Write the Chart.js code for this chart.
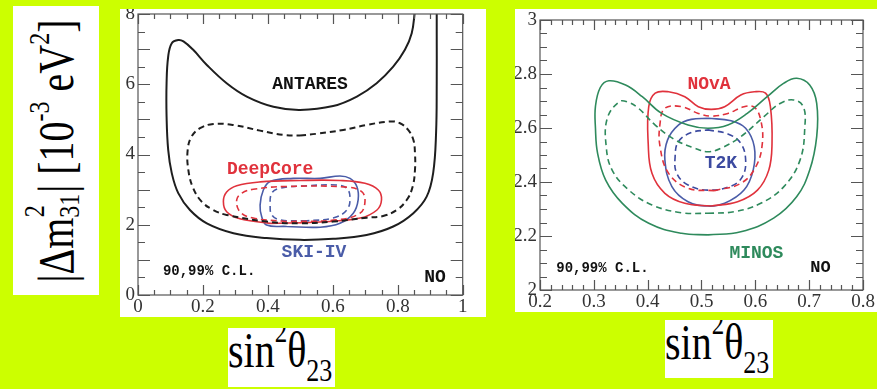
<!DOCTYPE html>
<html>
<head>
<meta charset="utf-8">
<script src="https://cdn.jsdelivr.net/npm/chart.js@4.4.1/dist/chart.umd.min.js"></script>
<style>
  body { margin: 0; width: 877px; height: 389px; background: #ccff00; position: relative; overflow: hidden; }
  .box { position: absolute; background: #fff; overflow: hidden; }
  .title { position: absolute; font-family: "Liberation Serif", "DejaVu Serif", serif; color: #000; white-space: nowrap; }
  .ytitle { width: 289px; height: 86px; left: -101.5px; top: 101.5px; line-height: 86px; text-align: center;
            font-size: 40px; transform: rotate(-90deg) scaleY(1.25); }
  .st { display: inline-block; position: relative; width: 0.62em; height: 1em; }
  .st .sp { position: absolute; left: 0.02em; top: -0.12em; font-size: 0.6em; line-height: 1; }
  .st .sb { position: absolute; left: 0; bottom: -0.38em; font-size: 0.6em; line-height: 1; }
  .up { font-size: 0.6em; position: relative; top: -0.8em; }
  .xtitle { left: 0; top: -2px; font-size: 40px; line-height: 40px; transform: scaleY(1.25); transform-origin: 0 0; }
  .xtitle .sp2 { font-size: 25px; position: relative; top: -20px; }
  .xtitle .sb2 { font-size: 26px; position: relative; top: 11px; }
  .preload { position: absolute; left: -999px; top: 0; }
</style>
</head>
<body>
<span class="preload" style="font-family:'Liberation Serif'">0.2</span>
<span class="preload" style="font-family:'Liberation Mono';font-weight:bold">NO</span>

<div class="box" style="left:13px;top:6px;width:86px;height:289px">
  <div class="title ytitle">|Δm<span class="st"><span class="sp">2</span><span class="sb">31</span></span>| [10<span class="up">-3</span> eV<span class="up">2</span>]</div>
</div>

<div class="box" style="left:120px;top:9px;width:366px;height:308px">
  <canvas id="leftChart" width="366" height="308"></canvas>
</div>

<div class="box" style="left:515px;top:9px;width:362px;height:303px">
  <canvas id="rightChart" width="362" height="303"></canvas>
</div>

<div class="box" style="left:228px;top:328px;width:107px;height:59px">
  <div class="title xtitle">sin<span class="sp2">2</span>θ<span class="sb2">23</span></div>
</div>

<div class="box" style="left:665px;top:320px;width:108px;height:58px">
  <div class="title xtitle">sin<span class="sp2">2</span>θ<span class="sb2">23</span></div>
</div>

<script>
// ---- left panel: atmospheric experiments, sin^2(theta23) vs |dm^2_31| ----
const leftXTicks = [0, 0.2, 0.4, 0.6, 0.8, 1];
const leftYTicks = [0, 2, 4, 6, 8];

// ANTARES 99% is open at the top of the frame
const antares99X = [0.853, 0.843, 0.822, 0.786, 0.735, 0.674, 0.601, 0.499, 0.417, 0.335, 0.273, 0.212, 0.170, 0.140, 0.124, 0.104, 0.093, 0.088, 0.088, 0.093, 0.104, 0.124, 0.160, 0.212, 0.294, 0.396, 0.499, 0.601, 0.704, 0.786, 0.848, 0.889, 0.909, 0.918, 0.920, 0.920, 0.920];
const antares99Y = [8.10, 7.45, 6.98, 6.50, 6.03, 5.65, 5.38, 5.27, 5.36, 5.65, 6.03, 6.55, 6.98, 7.22, 7.26, 7.17, 6.79, 6.03, 5.08, 4.13, 3.47, 2.90, 2.42, 2.04, 1.76, 1.62, 1.57, 1.60, 1.71, 1.95, 2.33, 2.80, 3.47, 4.61, 6.03, 7.46, 8.10];

const antares90X = [0.499, 0.550, 0.632, 0.704, 0.776, 0.807, 0.832, 0.848, 0.853, 0.853, 0.846, 0.828, 0.797, 0.755, 0.704, 0.601, 0.499, 0.396, 0.273, 0.232, 0.196, 0.170, 0.155, 0.153, 0.165, 0.191, 0.232, 0.294, 0.376, 0.447, 0.499];
const antares90Y = [4.54, 4.59, 4.70, 4.84, 4.94, 4.89, 4.70, 4.42, 4.04, 3.56, 3.09, 2.71, 2.42, 2.25, 2.20, 2.09, 2.04, 2.09, 2.28, 2.42, 2.66, 3.04, 3.56, 4.13, 4.51, 4.75, 4.87, 4.84, 4.68, 4.56, 4.54];

const deepcore99X = [0.407, 0.314, 0.273, 0.263, 0.273, 0.304, 0.376, 0.499, 0.622, 0.699, 0.740, 0.750, 0.736, 0.684, 0.561, 0.407];
const deepcore99Y = [2.04, 2.17, 2.37, 2.66, 2.93, 3.11, 3.22, 3.26, 3.26, 3.18, 2.99, 2.71, 2.42, 2.19, 2.08, 2.04];

const deepcore90X = [0.458, 0.355, 0.314, 0.304, 0.320, 0.355, 0.458, 0.643, 0.689, 0.699, 0.684, 0.612, 0.458];
const deepcore90Y = [2.09, 2.19, 2.37, 2.71, 2.90, 3.01, 3.09, 3.07, 2.94, 2.66, 2.33, 2.14, 2.09];

const ski99X = [0.458, 0.396, 0.381, 0.376, 0.386, 0.407, 0.478, 0.561, 0.622, 0.653, 0.674, 0.678, 0.663, 0.622, 0.561, 0.458];
const ski99Y = [1.95, 1.99, 2.23, 2.56, 2.99, 3.23, 3.32, 3.32, 3.39, 3.32, 3.09, 2.71, 2.33, 2.04, 1.93, 1.95];

const ski90X = [0.520, 0.437, 0.412, 0.407, 0.412, 0.437, 0.520, 0.612, 0.643, 0.653, 0.643, 0.601, 0.520];
const ski90Y = [2.11, 2.14, 2.28, 2.56, 2.90, 3.04, 3.11, 3.13, 3.04, 2.76, 2.42, 2.19, 2.11];

// ---- right panel: long-baseline experiments ----
const rightXTicks = [0.2, 0.3, 0.4, 0.5, 0.6, 0.7, 0.8];
const rightYTicks = [2, 2.2, 2.4, 2.6, 2.8, 3];

const minos99X = [0.512, 0.573, 0.634, 0.677, 0.701, 0.714, 0.714, 0.701, 0.677, 0.653, 0.622, 0.585, 0.549, 0.512, 0.475, 0.426, 0.390, 0.359, 0.328, 0.312, 0.303, 0.303, 0.307, 0.322, 0.353, 0.402, 0.463, 0.512];
const minos99Y = [2.204, 2.216, 2.266, 2.346, 2.444, 2.568, 2.691, 2.759, 2.784, 2.766, 2.716, 2.654, 2.611, 2.599, 2.611, 2.654, 2.716, 2.759, 2.775, 2.750, 2.680, 2.600, 2.506, 2.407, 2.321, 2.247, 2.210, 2.204];

const minos90X = [0.512, 0.561, 0.610, 0.653, 0.683, 0.692, 0.689, 0.671, 0.646, 0.616, 0.573, 0.536, 0.512, 0.488, 0.451, 0.414, 0.383, 0.362, 0.347, 0.325, 0.323, 0.334, 0.365, 0.408, 0.463, 0.512];
const minos90Y = [2.284, 2.290, 2.321, 2.383, 2.481, 2.605, 2.679, 2.704, 2.691, 2.642, 2.568, 2.525, 2.512, 2.525, 2.556, 2.611, 2.673, 2.697, 2.697, 2.636, 2.531, 2.444, 2.370, 2.315, 2.286, 2.284];

const nova99X = [0.518, 0.469, 0.432, 0.408, 0.401, 0.402, 0.414, 0.439, 0.469, 0.494, 0.518, 0.543, 0.573, 0.598, 0.619, 0.628, 0.631, 0.625, 0.604, 0.567, 0.518];
const nova99Y = [2.311, 2.321, 2.358, 2.432, 2.543, 2.679, 2.729, 2.734, 2.716, 2.679, 2.669, 2.679, 2.722, 2.734, 2.729, 2.679, 2.543, 2.444, 2.370, 2.327, 2.311];

const nova90X = [0.524, 0.475, 0.439, 0.423, 0.423, 0.432, 0.463, 0.494, 0.518, 0.549, 0.579, 0.598, 0.610, 0.613, 0.601, 0.573, 0.524];
const nova90Y = [2.368, 2.377, 2.432, 2.531, 2.617, 2.673, 2.679, 2.654, 2.644, 2.654, 2.679, 2.677, 2.630, 2.543, 2.457, 2.395, 2.368];

const t2k99X = [0.512, 0.555, 0.582, 0.598, 0.596, 0.579, 0.543, 0.512, 0.475, 0.445, 0.432, 0.437, 0.457, 0.481, 0.512];
const t2k99Y = [2.636, 2.627, 2.599, 2.531, 2.444, 2.370, 2.321, 2.311, 2.327, 2.383, 2.481, 2.556, 2.611, 2.632, 2.636];

const t2k90X = [0.512, 0.549, 0.573, 0.582, 0.576, 0.555, 0.512, 0.475, 0.454, 0.451, 0.457, 0.481, 0.512];
const t2k90Y = [2.593, 2.578, 2.543, 2.481, 2.420, 2.385, 2.370, 2.389, 2.432, 2.494, 2.549, 2.583, 2.593];

// in-plot annotations (text + anchor in data units)
const leftNotes = ['ANTARES', 'DeepCore', 'SKI-IV', '90,99% C.L.', 'NO'];
const leftNoteX = [0.53, 0.407, 0.542, 0.219, 0.915];
const leftNoteY = [6.0, 3.56, 1.2, 0.66, 0.51];
const rightNotes = ['NOvA', 'T2K', 'MINOS', '90,99% C.L.', 'NO'];
const rightNoteX = [0.514, 0.536, 0.602, 0.316, 0.721];
const rightNoteY = [2.76, 2.47, 2.137, 2.081, 2.081];

const BLACK = '#1e1e1e', RED = '#e0323c', BLUE = '#4a5ca8', T2KBLUE = '#3c4aa0', GREEN = '#2e8a5c';

function pts(xs, ys) {
  return xs.map((x, i) => ({ x: x, y: ys[i] }));
}

function contour(xs, ys, color, dashed, width) {
  return {
    data: pts(xs, ys),
    showLine: true,
    borderColor: color,
    borderWidth: width || 1.6,
    borderDash: dashed ? [6, 4] : [],
    pointRadius: 0,
    tension: 0.4,
    fill: false
  };
}

// inward ticks on all four sides plus the frame
const frameTicks = {
  id: 'frameTicks',
  afterDatasetsDraw(chart, args, o) {
    const { ctx, chartArea: a, scales: { x, y } } = chart;
    ctx.save();
    ctx.strokeStyle = '#555';
    ctx.lineWidth = 1.2;
    ctx.beginPath();
    const nx = Math.round((x.max - x.min) / o.xMinor);
    for (let i = 0; i <= nx; i++) {
      const v = x.min + i * o.xMinor;
      const r = v / o.xMajor;
      const len = Math.abs(r - Math.round(r)) < 1e-6 ? o.xLong : o.xShort;
      const px = Math.round(x.getPixelForValue(v)) + 0.5;
      ctx.moveTo(px, a.bottom); ctx.lineTo(px, a.bottom - len);
      ctx.moveTo(px, a.top); ctx.lineTo(px, a.top + len);
    }
    const ny = Math.round((y.max - y.min) / o.yMinor);
    for (let i = 0; i <= ny; i++) {
      const v = y.min + i * o.yMinor;
      const r = (v - y.min) / o.yMajor;
      const len = Math.abs(r - Math.round(r)) < 1e-6 ? o.yLong : o.yShort;
      const py = Math.round(y.getPixelForValue(v)) + 0.5;
      ctx.moveTo(a.left, py); ctx.lineTo(a.left + len, py);
      ctx.moveTo(a.right, py); ctx.lineTo(a.right - len, py);
    }
    ctx.stroke();
    ctx.strokeRect(a.left, a.top, a.right - a.left, a.bottom - a.top);
    ctx.restore();
  }
};

const notesPlugin = {
  id: 'notes',
  afterDatasetsDraw(chart, args, o) {
    const { ctx, scales: { x, y } } = chart;
    ctx.save();
    ctx.textAlign = 'center';
    ctx.textBaseline = 'middle';
    o.text.forEach((t, i) => {
      ctx.font = o.fonts[i];
      ctx.fillStyle = o.colors[i];
      ctx.fillText(t, x.getPixelForValue(o.xs[i]), y.getPixelForValue(o.ys[i]));
    });
    ctx.restore();
  }
};

const tickFont = { family: '"Liberation Serif", "Times New Roman", serif', size: 19 };
const tickLabel = v => String(+v.toFixed(2));

function panel(id, cfg) {
  const ctx = document.getElementById(id).getContext('2d');
  return new Chart(ctx, {
    type: 'scatter',
    data: { datasets: cfg.datasets },
    options: {
      responsive: false,
      animation: false,
      layout: { padding: cfg.padding },
      plugins: {
        legend: { display: false },
        tooltip: { enabled: false },
        frameTicks: cfg.ticks,
        notes: cfg.notes
      },
      scales: {
        x: {
          type: 'linear', min: cfg.xTicks[0], max: cfg.xTicks[cfg.xTicks.length - 1],
          grid: { display: false, drawTicks: false },
          border: { display: false },
          afterBuildTicks: s => { s.ticks = cfg.xTicks.map(v => ({ value: v })); },
          ticks: { font: tickFont, color: '#333', padding: 1, maxRotation: 0, autoSkip: false, callback: tickLabel },
          afterFit: s => { s.height = cfg.xHeight; s.paddingLeft = 0; s.paddingRight = 0; }
        },
        y: {
          type: 'linear', min: cfg.yTicks[0], max: cfg.yTicks[cfg.yTicks.length - 1],
          grid: { display: false, drawTicks: false },
          border: { display: false },
          afterBuildTicks: s => { s.ticks = cfg.yTicks.map(v => ({ value: v })); },
          ticks: { font: tickFont, color: '#333', padding: 3, autoSkip: false, callback: tickLabel },
          afterFit: s => { s.width = cfg.yWidth; s.paddingTop = 0; s.paddingBottom = 0; }
        }
      }
    },
    plugins: [frameTicks, notesPlugin]
  });
}

const monoBold = sz => 'bold ' + sz + 'px "Liberation Mono", "Courier New", monospace';

function draw() {
  panel('leftChart', {
    xTicks: leftXTicks, yTicks: leftYTicks,
    padding: { top: 5, right: 23.3, left: 0, bottom: 0 },
    xHeight: 22, yWidth: 18,
    ticks: { xMinor: 0.05, xMajor: 0.2, xLong: 10, xShort: 5, yMinor: 0.5, yMajor: 1, yLong: 12, yShort: 7 },
    notes: {
      text: leftNotes, xs: leftNoteX, ys: leftNoteY,
      fonts: [monoBold(18), monoBold(18), monoBold(18), monoBold(14), monoBold(18)],
      colors: ['#111', RED, BLUE, '#111', '#111']
    },
    datasets: [
      contour(antares99X, antares99Y, BLACK, false, 2),
      contour(antares90X, antares90Y, BLACK, true, 2),
      contour(deepcore99X, deepcore99Y, RED, false),
      contour(deepcore90X, deepcore90Y, RED, true),
      contour(ski99X, ski99Y, BLUE, false),
      contour(ski90X, ski90Y, BLUE, true)
    ]
  });

  panel('rightChart', {
    xTicks: rightXTicks, yTicks: rightYTicks,
    padding: { top: 11, right: 14, left: 0, bottom: 0 },
    xHeight: 22, yWidth: 25,
    ticks: { xMinor: 0.02, xMajor: 0.1, xLong: 10, xShort: 5, yMinor: 0.05, yMajor: 0.2, yLong: 12, yShort: 7 },
    notes: {
      text: rightNotes, xs: rightNoteX, ys: rightNoteY,
      fonts: [monoBold(18), monoBold(18), monoBold(18), monoBold(14), monoBold(17)],
      colors: [RED, T2KBLUE, GREEN, '#111', '#111']
    },
    datasets: [
      contour(minos99X, minos99Y, GREEN, false),
      contour(minos90X, minos90Y, GREEN, true),
      contour(nova99X, nova99Y, RED, false),
      contour(nova90X, nova90Y, RED, true),
      contour(t2k99X, t2k99Y, BLUE, false),
      contour(t2k90X, t2k90Y, T2KBLUE, true)
    ]
  });
}

// make sure the canvas gets the Liberation faces, not a fallback
Promise.all([
  document.fonts.load('19px "Liberation Serif"'),
  document.fonts.load('bold 18px "Liberation Mono"')
]).then(draw, draw);
</script>
</body>
</html>
